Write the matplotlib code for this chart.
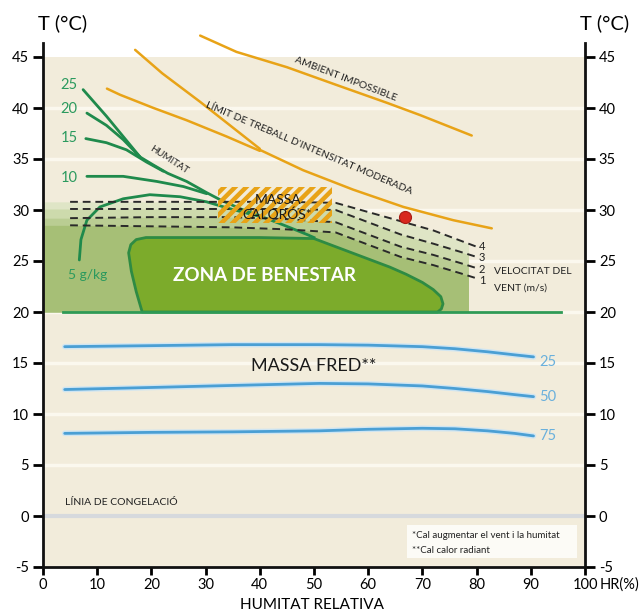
#! /usr/bin/env python3

# Bioclimatic chart (Olgyay type): temperature vs relative humidity.

import matplotlib.pyplot as plt
from matplotlib.patches import Polygon, Rectangle
import numpy as np

plt.rcParams['font.family'] = ['Lato', 'DejaVu Sans']
plt.rcParams['hatch.linewidth'] = 3.2
plt.rcParams['axes.unicode_minus'] = False

hr_ticks = [0, 10, 20, 30, 40, 50, 60, 70, 80, 90, 100]
t_ticks = [-5, 0, 5, 10, 15, 20, 25, 30, 35, 40, 45]

# humidity lines (g/kg), each head joins a common tail
h25_x = [7.4, 11.7, 14.8, 17.9]
h25_t = [41.8, 39.2, 37.2, 35.2]
h20_x = [8.1, 11.7, 14.8, 17.9]
h20_t = [39.5, 38.3, 36.9, 35.2]
h15_x = [7.9, 11.7, 15.4, 19.1, 22.2]
h15_t = [37.0, 36.6, 35.9, 34.7, 33.8]
h10_x = [8.1, 14.8, 21.0, 25.9, 30.2]
h10_t = [33.3, 33.3, 32.8, 32.3, 31.6]
h5_x = [6.7, 7.0, 8.1, 10.5, 14.8, 19.7, 25.3, 30.2, 34.0, 37.5, 40.6]
h5_t = [25.1, 27.1, 29.0, 30.3, 31.1, 31.5, 31.3, 30.8, 30.2, 29.7, 29.3]
hum_tail_x = [17.9, 20.4, 23.0, 26.5, 30.2, 32.7, 36.5, 40.6, 44.5, 48.7, 50.0]
hum_tail_t = [35.2, 34.4, 33.6, 32.8, 31.7, 31.0, 30.1, 29.3, 28.5, 27.6, 27.3]
hum_labels = ['25', '20', '15', '10']
hum_label_t = [42.3, 39.9, 37.1, 33.1]

# limit lines
amb_x = [29.0, 35.7, 45.0, 54.2, 63.5, 69.6, 79.1]
amb_t = [47.1, 45.5, 44.0, 42.25, 40.5, 39.3, 37.3]
limb_x = [17.0, 22.0, 29.0, 34.5, 40.0]
limb_t = [45.7, 43.4, 40.6, 38.3, 36.0]
limc_x = [11.8, 14.2, 20.4, 26.5, 33.9, 40.0]
limc_t = [41.9, 41.3, 40.0, 38.8, 37.2, 35.8]
lim_tail_x = [40.0, 48.0, 57.2, 66.5, 75.7, 82.8]
lim_tail_t = [35.9, 33.9, 32.0, 30.3, 29.0, 28.2]

# wind speed lines (m/s)
wind_x = [5, 20, 35, 45, 54, 60, 66, 72, 77, 80]
wind4 = [30.8, 30.8, 30.8, 30.8, 30.7, 29.8, 28.9, 28.0, 27.0, 26.4]
wind3 = [30.1, 30.1, 30.1, 30.1, 30.0, 28.8, 27.6, 26.7, 25.9, 25.4]
wind2 = [29.2, 29.3, 29.3, 29.1, 28.8, 27.6, 26.4, 25.6, 24.8, 24.3]
wind1 = [28.5, 28.4, 28.3, 28.1, 27.8, 26.6, 25.4, 24.6, 23.8, 23.3]
wind_labels = ['4', '3', '2', '1']

# comfort zone outline
cz_x = [18.3, 17.2, 16.3, 15.8, 16.2, 17.2, 19.0, 30.0, 40.0, 50.0, 55.0,
        60.0, 64.0, 67.0, 70.0, 72.0, 73.4, 73.8, 73.5, 72.8]
cz_t = [20.0, 22.0, 24.0, 25.8, 26.6, 27.1, 27.3, 27.3, 27.3, 27.2, 26.2,
        25.2, 24.4, 23.7, 22.9, 22.2, 21.5, 20.8, 20.3, 20.0]

# cold lines (% radiation)
cold_x = [4, 20, 35, 51, 60, 70, 76, 82, 87, 90.5]
cold25 = [16.6, 16.7, 16.8, 16.8, 16.75, 16.6, 16.4, 16.1, 15.8, 15.6]
cold50 = [12.4, 12.6, 12.8, 13.0, 12.95, 12.75, 12.5, 12.2, 11.9, 11.7]
cold75 = [8.1, 8.2, 8.25, 8.35, 8.5, 8.6, 8.55, 8.35, 8.1, 7.85]
cold_labels = ['25', '50', '75']

base_x = [3.7, 95.5]
base_t = [20, 20]
point_x = [66.8]
point_t = [29.3]

GREEN = '#1f8a4c'
ORANGE = '#e8a317'
BLUE = '#4a9fd4'

fig = plt.figure(figsize=(6.41, 6.16), dpi=100)
ax = fig.add_axes([43/641, 49/616, 542/641, 540.6/616])
ax.set_xlim(0, 100)
ax.set_ylim(-5, 48)

# background
ax.axhspan(-5, 45, color='#f2ecdb', zorder=0, lw=0)
for t in [-5, 5, 10, 15, 20, 25, 30, 35, 40]:
    ax.axhline(t, color='#fbf8ee', lw=2.5, zorder=0.5)
ax.axhline(0, color='#d6d9dd', lw=3, zorder=0.6)

# wind shading
clip = Rectangle((0, 20), 78.5, 15, transform=ax.transData)
fx = np.r_[0, wind_x]
for w, c in zip([wind4, wind3, wind2, wind1],
                ['#dfe5c6', '#cddaac', '#bacd93', '#a6bf76']):
    f = ax.fill_between(fx, 20, np.r_[w[0], w], color=c, lw=0, zorder=1)
    f.set_clip_path(clip)

# comfort zone
ax.add_patch(Polygon(np.c_[cz_x, cz_t], closed=True, facecolor='#7cab2b',
                     edgecolor='#2e8b43', lw=2, joinstyle='round', zorder=2))
ax.plot(base_x, base_t, color='#2f9a55', lw=2, zorder=3)

# humidity lines
for hx, ht in [(h25_x, h25_t), (h20_x, h20_t), (h15_x, h15_t), (h10_x, h10_t), (h5_x, h5_t)]:
    ax.plot(hx, ht, color=GREEN, lw=2, zorder=3, solid_capstyle='round')
ax.plot(hum_tail_x, hum_tail_t, color=GREEN, lw=2, zorder=3)
for lab, t in zip(hum_labels, hum_label_t):
    ax.text(6.4, t, lab, color='#2b9a5e', fontsize=10.5, ha='right', va='center', zorder=5)
ax.text(8.2, 23.6, '5 g/kg', color='#2b9a5e', fontsize=10, ha='center', va='center', zorder=5)
ax.text(23.3, 34.9, 'HUMITAT', fontsize=7, rotation=-33, ha='center', va='center',
        color='#222222', zorder=5)

# limit lines
for lx, lt in [(amb_x, amb_t), (limb_x, limb_t), (limc_x, limc_t), (lim_tail_x, lim_tail_t)]:
    ax.plot(lx, lt, color=ORANGE, lw=1.8, zorder=3, clip_on=False, solid_capstyle='round')
ax.text(55.8, 42.8, 'AMBIENT IMPOSSIBLE', fontsize=7.5, rotation=-21, ha='center',
        va='center', color='#222222', zorder=5)
ax.text(49.1, 36.0, "LÍMIT DE TREBALL D'INTENSITAT MODERADA", fontsize=7.5, rotation=-23,
        ha='center', va='center', color='#222222', zorder=5)

# wind lines
for w in [wind4, wind3, wind2, wind1]:
    ax.plot(wind_x, w, color='#2a2a2a', lw=1.4, ls=(0, (4, 2.5)), zorder=3.5)
for lab, w in zip(wind_labels, [26.4, 25.3, 24.2, 23.1]):
    ax.text(80.4, w, lab, fontsize=8, ha='left', va='center', color='#222222', zorder=5)
ax.text(83.2, 24.0, 'VELOCITAT DEL', fontsize=7.5, ha='left', va='center', color='#222222')
ax.text(83.2, 22.3, 'VENT (m/s)', fontsize=7.5, ha='left', va='center', color='#222222')

# hot mass box
ax.add_patch(Rectangle((32.3, 28.7), 21, 3.6, fill=False, hatch='///',
                       edgecolor=ORANGE, lw=0, zorder=4))
ax.text(43.3, 31.0, 'MASSA', fontsize=10, ha='center', va='center', color='#1a1a1a', zorder=5)
ax.text(43.3, 29.5, 'CALORÓS*', fontsize=10, ha='center', va='center', color='#1a1a1a', zorder=5)

ax.scatter(point_x, point_t, s=75, color='#d8281e', edgecolor='#a81c14', lw=0.8, zorder=5)

ax.text(40.9, 23.6, 'ZONA DE BENESTAR', fontsize=13.5, fontweight='bold', color='white',
        ha='center', va='center', zorder=5)

# cold lines
for c in [cold25, cold50, cold75]:
    ax.plot(cold_x, c, color='#cfe5f2', lw=4, zorder=2.5, solid_capstyle='round')
    ax.plot(cold_x, c, color=BLUE, lw=2, zorder=3, solid_capstyle='round')
for lab, t in zip(cold_labels, [15.1, 11.7, 7.8]):
    ax.text(91.5, t, lab, fontsize=10.5, color='#6ab0dc', ha='left', va='center')
ax.text(50, 14.7, 'MASSA FRED**', fontsize=13, ha='center', va='center', color='#1a1a1a')

ax.text(4.1, 1.3, 'LÍNIA DE CONGELACIÓ', fontsize=7.5, ha='left', va='center', color='#222222')

# notes box
ax.add_patch(Rectangle((67.1, -4.15), 31.4, 3.25, facecolor='#fcfbf6', lw=0, zorder=4))
ax.text(68, -1.95, '*Cal augmentar el vent i la humitat', fontsize=7, ha='left',
        va='center', color='#222222', zorder=5)
ax.text(68, -3.35, '**Cal calor radiant', fontsize=7, ha='left', va='center',
        color='#222222', zorder=5)

# axes
ax.set_facecolor('white')
ax.spines['top'].set_visible(False)
for s in ['left', 'right', 'bottom']:
    ax.spines[s].set_linewidth(2)
    ax.spines[s].set_color('#111111')
ax.spines['left'].set_bounds(-5, 46.4)
ax.spines['right'].set_bounds(-5, 46.4)
ax.set_xticks(hr_ticks)
ax.set_yticks(t_ticks)
ax.tick_params(axis='y', direction='out', length=7, width=2, labelsize=10.5,
               left=True, right=True, labelleft=True, labelright=True, pad=3)
ax.tick_params(axis='x', direction='out', length=6, width=2, labelsize=10.5, pad=2)

fig.text(38/641, 1 - 23/616, 'T (°C)', fontsize=14.5, ha='left', va='center')
fig.text(580/641, 1 - 23/616, 'T (°C)', fontsize=14.5, ha='left', va='center')
fig.text(600/641, 1 - 585/616, 'HR(%)', fontsize=10.5, ha='left', va='center')
fig.text(312.5/641, 1 - 605/616, 'HUMITAT RELATIVA', fontsize=11, ha='center', va='center')

fig.savefig('out.png', dpi=100)
